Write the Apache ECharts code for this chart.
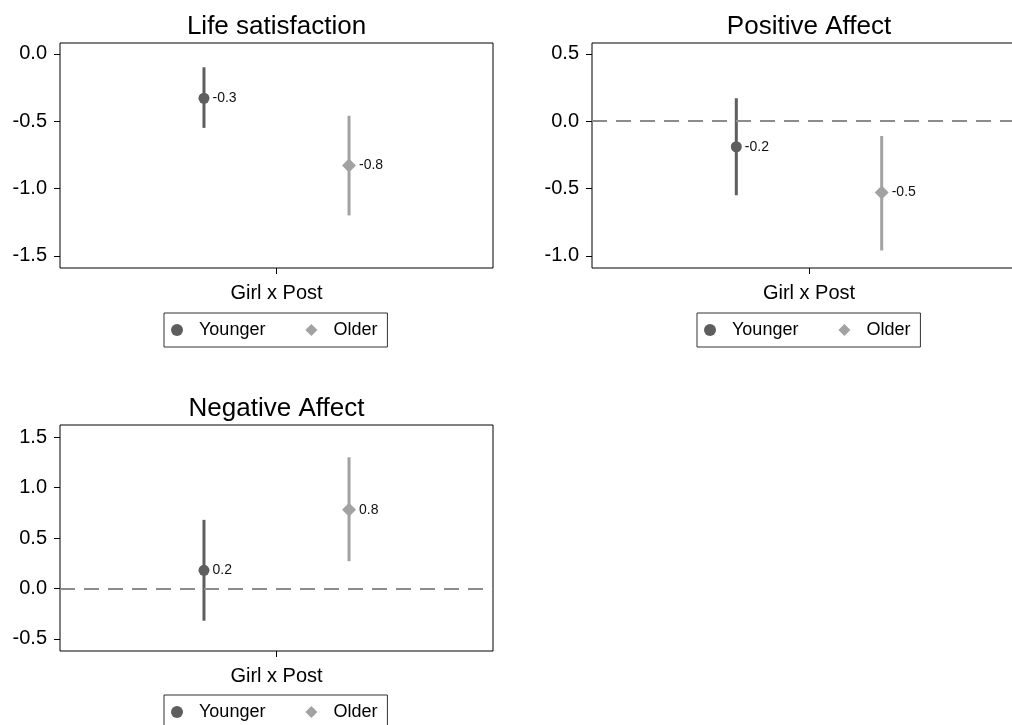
<!DOCTYPE html>
<html>
<head>
<meta charset="utf-8">
<title>Girl x Post estimates</title>
<script src="https://cdn.jsdelivr.net/npm/echarts@6/dist/echarts.min.js"></script>
<style>
  html, body { margin: 0; padding: 0; background: #fff; }
  #chart { width: 1012px; height: 725px; }
</style>
</head>
<body>
<div id="chart"></div>
<script>
// Outcomes, one panel each
const titles = ['Life satisfaction', 'Positive Affect', 'Negative Affect'];
const groups = ['Younger', 'Older'];
const xLabel = 'Girl x Post';

// Point estimates and 95% confidence bounds per outcome
const youngerEst  = [-0.33, -0.19, 0.18];
const youngerLow  = [-0.55, -0.55, -0.32];
const youngerHigh = [-0.10, 0.17, 0.68];
const olderEst    = [-0.83, -0.53, 0.78];
const olderLow    = [-1.20, -0.96, 0.27];
const olderHigh   = [-0.46, -0.11, 1.30];

// Y axis extents and tick values per panel
const yMin = [-1.59, -1.09, -0.62];
const yMax = [0.08, 0.58, 1.62];
const yTicks = [
  [-1.5, -1.0, -0.5, 0.0],
  [-1.0, -0.5, 0.0, 0.5],
  [-0.5, 0.0, 0.5, 1.0, 1.5]
];
// Panels that show a reference line at zero
const zeroLine = [false, true, true];

const FONT = '"Liberation Sans", Arial, Helvetica, sans-serif';
const groupColor = ['#5e5e5e', '#a2a2a2'];
const groupSymbol = ['circle', 'diamond'];
const groupSymbolSize = [11, 14];
const groupOffset = [-0.335, 0.335];   // horizontal dodge around the single coefficient

const est  = [youngerEst, olderEst];
const low  = [youngerLow, olderLow];
const high = [youngerHigh, olderHigh];

// Panel frames
const grids = [
  { left: 60,  top: 43,  width: 433, height: 225 },
  { left: 592, top: 43,  width: 434, height: 225 },
  { left: 60,  top: 425, width: 433, height: 226 }
];
const legendPos = [
  { left: 164, top: 313 },
  { left: 697, top: 313 },
  { left: 164, top: 695 }
];

const chart = echarts.init(document.getElementById('chart'), null, { renderer: 'canvas' });

const option = {
  backgroundColor: '#fff',
  animation: false,
  textStyle: { fontFamily: FONT },
  title: [],
  grid: [],
  xAxis: [],
  yAxis: [],
  legend: [],
  series: []
};

titles.forEach((t, p) => {
  const g = grids[p];
  option.grid.push({
    left: g.left, top: g.top, width: g.width, height: g.height,
    outerBoundsMode: 'none', containLabel: false,
    show: true, borderColor: '#000', borderWidth: 1, backgroundColor: '#fff'
  });

  option.title.push({
    text: t,
    left: g.left + g.width / 2,
    top: g.top - 29,
    textAlign: 'center',
    padding: 0,
    textStyle: { fontFamily: FONT, fontSize: 26, fontWeight: 'normal', color: '#000' }
  });

  option.xAxis.push({
    type: 'value', gridIndex: p, min: -1, max: 1, position: 'bottom',
    axisLine: { show: false, onZero: false },
    splitLine: { show: false },
    axisTick: { show: true, customValues: [0], length: 6, lineStyle: { color: '#000', width: 1 } },
    axisLabel: {
      show: true, customValues: [0], margin: 15,
      formatter: () => xLabel,
      fontFamily: FONT, fontSize: 20, color: '#000'
    }
  });

  option.yAxis.push({
    type: 'value', gridIndex: p, min: yMin[p], max: yMax[p], position: 'left',
    axisLine: { show: false, onZero: false },
    splitLine: { show: false },
    axisTick: { show: true, customValues: yTicks[p], length: 6, lineStyle: { color: '#000', width: 1 } },
    axisLabel: {
      show: true, customValues: yTicks[p], margin: 13,
      formatter: v => v.toFixed(1),
      fontFamily: FONT, fontSize: 20, color: '#000'
    }
  });

  option.legend.push({
    left: legendPos[p].left, top: legendPos[p].top,
    orient: 'horizontal',
    padding: [8, 10, 8, 7],
    itemGap: 40,
    itemWidth: 12, itemHeight: 12,
    borderColor: '#333', borderWidth: 1,
    backgroundColor: '#fff',
    selectedMode: false,
    textStyle: { fontFamily: FONT, fontSize: 18, color: '#000', padding: [0, 0, 0, 11] },
    data: groups.map((name, k) => ({
      name, icon: groupSymbol[k], itemStyle: { color: groupColor[k] }
    }))
  });

  if (zeroLine[p]) {
    option.series.push({
      type: 'line', name: 'zero', xAxisIndex: p, yAxisIndex: p,
      data: [], z: 1, silent: true,
      markLine: {
        silent: true, symbol: 'none', animation: false,
        label: { show: false },
        lineStyle: { color: '#8c8c8c', width: 2, type: [15, 9] },
        data: [{ yAxis: 0 }]
      }
    });
  }

  groups.forEach((name, k) => {
    const x = groupOffset[k];
    // Confidence interval as a vertical segment
    option.series.push({
      type: 'custom', name, xAxisIndex: p, yAxisIndex: p, z: 2,
      encode: { x: 0, y: [1, 2] },
      data: [[x, low[k][p], high[k][p]]],
      renderItem: (params, api) => {
        const a = api.coord([api.value(0), api.value(1)]);
        const b = api.coord([api.value(0), api.value(2)]);
        return {
          type: 'line',
          shape: { x1: a[0], y1: a[1], x2: b[0], y2: b[1] },
          style: { stroke: groupColor[k], lineWidth: 3 }
        };
      }
    });
    // Point estimate with its rounded value
    option.series.push({
      type: 'scatter', name, xAxisIndex: p, yAxisIndex: p, z: 3,
      symbol: groupSymbol[k], symbolSize: groupSymbolSize[k],
      itemStyle: { color: groupColor[k], opacity: 1 },
      data: [[x, est[k][p]]],
      label: {
        show: true, position: 'right', distance: 3,
        formatter: d => d.value[1].toFixed(1),
        fontFamily: FONT, fontSize: 14, color: '#111'
      }
    });
  });
});

chart.setOption(option);
</script>
</body>
</html>
